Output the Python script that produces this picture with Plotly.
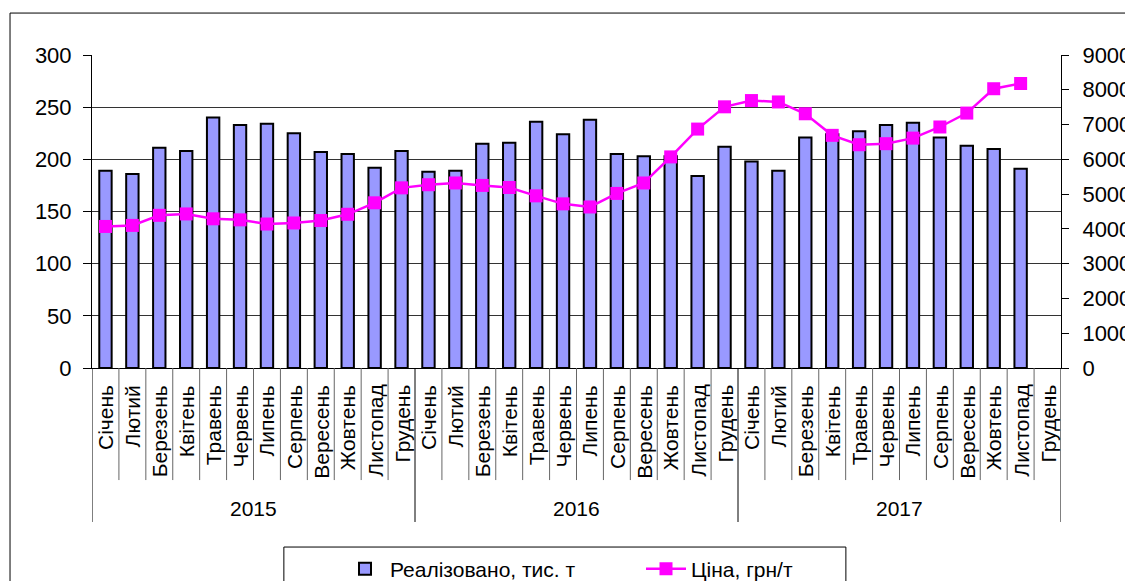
import plotly.graph_objects as go

months = ["Січень", "Лютий", "Березень", "Квітень", "Травень", "Червень",
          "Липень", "Серпень", "Вересень", "Жовтень", "Листопад", "Грудень"]
years = ["2015", "2016", "2017"]

sold_2015 = [189, 186, 211, 208, 240, 233, 234, 225, 207, 205, 192, 208]
sold_2016 = [188, 189, 215, 216, 236, 224, 238, 205, 203, 203, 184, 212]
sold_2017 = [198, 189, 221, 224, 227, 233, 235, 221, 213, 210, 191, None]

price_2015 = [4070, 4100, 4390, 4430, 4290, 4260, 4140, 4170, 4240, 4420, 4750, 5180]
price_2016 = [5270, 5320, 5250, 5190, 4950, 4720, 4630, 5020, 5320, 6070, 6870, 7510]
price_2017 = [7690, 7650, 7310, 6690, 6420, 6450, 6610, 6930, 7330, 8030, 8180, None]

sold = sold_2015 + sold_2016 + sold_2017
price = price_2015 + price_2016 + price_2017
labels = months * len(years)
x = list(range(len(labels)))

FONT = "Liberation Sans, Arial, sans-serif"

fig = go.Figure()
fig.add_trace(go.Bar(
    x=x, y=sold, name="Реалізовано, тис. т", width=0.46,
    marker=dict(color="#9999FF", line=dict(color="black", width=2)),
    yaxis="y"))
fig.add_trace(go.Scatter(
    x=x, y=price, name="Ціна, грн/т", mode="lines+markers",
    line=dict(color="#FF00FF", width=2.5),
    marker=dict(symbol="square", size=13, color="#FF00FF"),
    yaxis="y2"))

shapes = []
n = len(labels)
for i in range(n + 1):
    b = i - 0.5
    is_year = (i % 12 == 0)
    shapes.append(dict(type="line", xref="x", yref="paper", x0=b, x1=b,
                       y0=0, y1=-0.492 if is_year else -0.358,
                       line=dict(color="black" if is_year else "#666666", width=1)))
# outer chart frame
shapes.append(dict(type="rect", xref="paper", yref="paper", x0=-0.0846, x1=1.2,
                   y0=-0.9, y1=1.134, line=dict(color="black", width=1),
                   fillcolor="rgba(0,0,0,0)", layer="below"))
# legend frame
shapes.append(dict(type="rect", xref="paper", yref="paper", x0=0.198, x1=0.778,
                   y0=-0.9, y1=-0.572, line=dict(color="black", width=1),
                   fillcolor="rgba(0,0,0,0)"))

annotations = []
for i, m in enumerate(labels):
    annotations.append(dict(text=m, x=i, xref="x", y=0, yref="paper", yshift=-15,
                            xanchor="center", yanchor="top", textangle=-90,
                            showarrow=False, font=dict(family=FONT, size=21, color="black")))
for k, yr in enumerate(years):
    annotations.append(dict(text=yr, x=k * 12 + 5.5, xref="x", y=0, yref="paper",
                            yshift=-140, xanchor="center", yanchor="middle",
                            showarrow=False, font=dict(family=FONT, size=21, color="black")))

fig.update_layout(
    width=1125, height=581, autosize=False,
    margin=dict(l=92, r=64, t=55, b=213, autoexpand=False),
    paper_bgcolor="white", plot_bgcolor="white",
    font=dict(family=FONT, size=21, color="black"),
    showlegend=True,
    legend=dict(orientation="h", xref="container", yref="container",
                x=340 / 1125, y=1 - 569 / 581, xanchor="left", yanchor="middle",
                font=dict(family=FONT, size=21), bgcolor="rgba(0,0,0,0)",
                entrywidth=246, entrywidthmode="pixels", itemwidth=40),
    xaxis=dict(range=[-0.5, n - 0.5], showticklabels=False, showline=True,
               linecolor="black", linewidth=1, ticks="", showgrid=False, zeroline=False,
               automargin=False),
    yaxis=dict(range=[0, 300], dtick=50, ticks="outside", ticklen=8, tickcolor="black",
               showline=True, linecolor="black", linewidth=1, showgrid=True,
               gridcolor="#333333", gridwidth=1, zeroline=False, automargin=False,
               tickfont=dict(family=FONT, size=22), ticklabelstandoff=7),
    yaxis2=dict(range=[0, 9000], dtick=1000, overlaying="y", side="right",
                ticks="outside", ticklen=7, tickcolor="black", showline=True,
                linecolor="black", linewidth=1, showgrid=False, zeroline=False,
                automargin=False,
                tickfont=dict(family=FONT, size=22), ticklabelstandoff=9),
    yaxis3=dict(range=[0, 9000], dtick=1000, overlaying="y", side="right",
                ticks="inside", ticklen=6, tickcolor="black", showline=False,
                automargin=False,
                showticklabels=False, showgrid=False, zeroline=False),
    shapes=shapes, annotations=annotations,
)

fig.write_html(
    "out.html",
    config={"responsive": False, "displayModeBar": False},
    post_script="document.body.style.margin='0';document.body.style.overflow='hidden';",
)
